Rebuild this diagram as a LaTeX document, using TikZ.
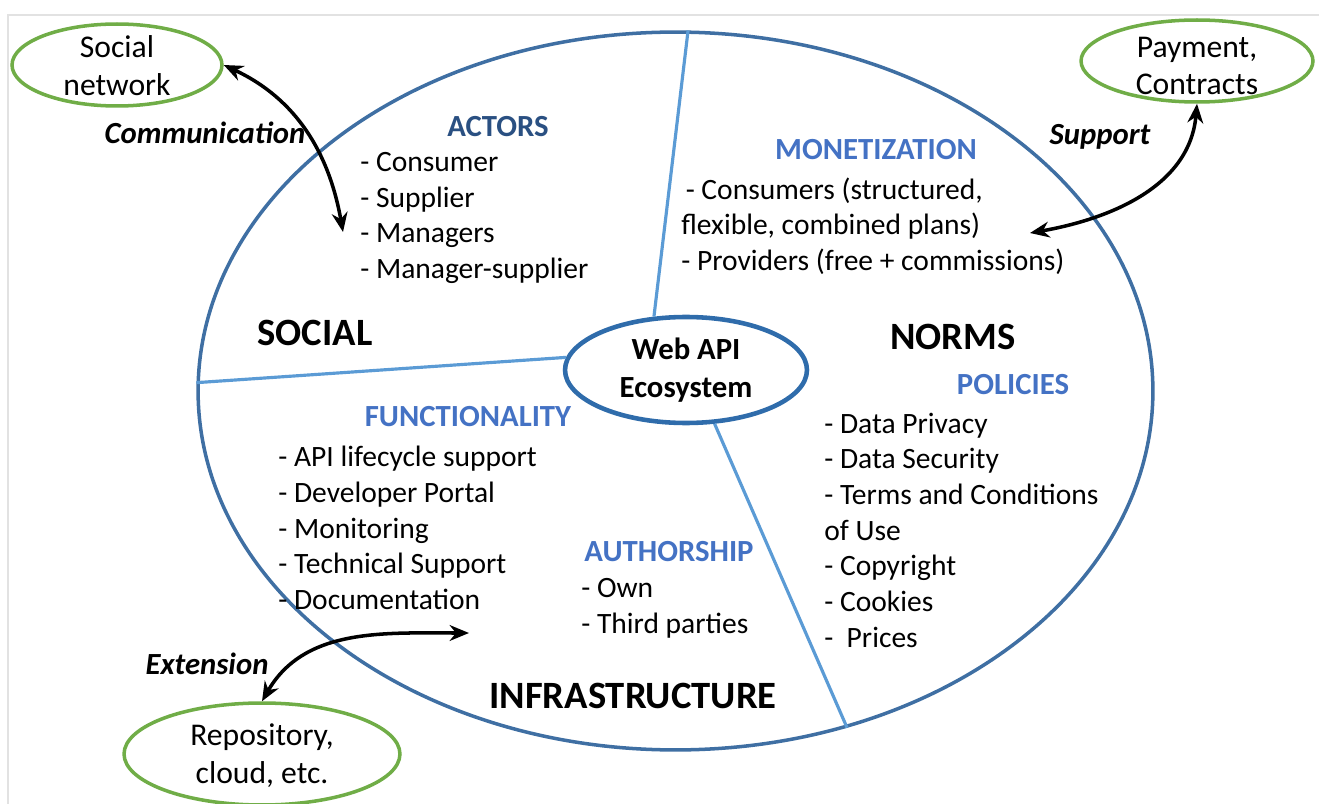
\documentclass[tikz,border=0pt]{standalone}
\usepackage{fontspec}
\setmainfont{Carlito}
\usepackage{xcolor}
\usepackage{tikz}
\usetikzlibrary{shapes.geometric, arrows.meta}

\definecolor{rimblue}{HTML}{3F6FA3}
\definecolor{hubblue}{HTML}{2F6CAB}
\definecolor{splitblue}{HTML}{5B9BD5}
\definecolor{headblue}{HTML}{4472C4}
\definecolor{navy}{HTML}{2A5082}
\definecolor{leafgreen}{HTML}{70AD47}
\definecolor{framegray}{HTML}{E2E2E2}

\begin{document}
\begin{tikzpicture}[
        x=0.02cm, y=-0.02cm,
        >={Stealth[length=11pt,width=9pt]},
        every node/.style={font=\fontsize{16.8}{20.3}\selectfont},
        rim/.style={draw=rimblue, line width=2pt, ellipse, minimum width=19.1cm, minimum height=14.36cm},
        hub/.style={draw=hubblue, line width=2.6pt, ellipse, inner sep=0pt, minimum width=4.84cm, minimum height=2.12cm, align=center, font=\fontsize{17.5}{21.5}\selectfont\bfseries},
        outer/.style={draw=leafgreen, line width=2pt, ellipse},
        outertext/.style={align=center, font=\fontsize{18}{21.5}\selectfont},
        split/.style={draw=splitblue, line width=1.8pt},
        head/.style={text=headblue, font=\fontsize{17.5}{21}\selectfont\bfseries},
        area/.style={font=\fontsize{22}{26}\selectfont\bfseries},
        items/.style={anchor=west, align=left, inner sep=0pt},
        link/.style={<->, line width=2pt},
        linklabel/.style={font=\fontsize{17.5}{21}\selectfont\bfseries\itshape}
    ]

    \useasboundingbox (0,0) rectangle (1319,804);
    \draw[framegray, line width=1pt] (8,804) -- (8,15) -- (1319,15);

    \node[rim] (eco) at (675.5,391) {};
    \node[hub] (hub) at (686,370) {Web API\\Ecosystem};

    \draw[split] (eco.88) -- (hub.121);
    \draw[split] (eco.179) -- (hub.174);
    \draw[split] (hub.298) -- (eco.297);

    \node[outer, minimum width=4.2cm, minimum height=1.64cm] (sn) at (117,65) {};
    \node[outertext] (sntext) at (117,66) {Social\\network};
    \node[outer, minimum width=4.64cm, minimum height=1.64cm] (pay) at (1197,61) {};
    \node[outertext] (paytext) at (1197,66) {Payment,\\Contracts};
    \node[outer, minimum width=5.52cm, minimum height=2.04cm] (repo) at (262,754) {};
    \node[outertext] (repotext) at (262,756) {Repository,\\cloud, etc.};

    \node[head, text=navy] (actors) at (498,127) {ACTORS};
    \node[items] (actorlist) at (360,218) {- Consumer\\- Supplier\\- Managers\\- Manager-supplier};
    \node[area] (social) at (315,333) {SOCIAL};

    \node[head] (money) at (876,150) {MONETIZATION};
    \node[items] (moneylist) at (681,226) {\hspace*{0.15em}- Consumers (structured,\\flexible, combined plans)\\- Providers (free + commissions)};

    \node[area] (norms) at (953,337) {NORMS};
    \node[head] (policies) at (1013,385) {POLICIES};
    \node[items] (policylist) at (824,530) {- Data Privacy\\- Data Security\\- Terms and Conditions\\of Use\\- Copyright\\- Cookies\\-\ \ Prices};

    \node[head] (func) at (468,417) {FUNCTIONALITY};
    \node[items] (funclist) at (278,528) {- API lifecycle support\\- Developer Portal\\- Monitoring\\- Technical Support\\- Documentation};
    \node[head] (author) at (669,552) {AUTHORSHIP};
    \node[items] (authorlist) at (581,608) {- Own\\- Third parties};
    \node[area] (infra) at (633,696) {INFRASTRUCTURE};

    \coordinate (commEnd) at (343,232);
    \coordinate (suppEnd) at (1030,233);
    \coordinate (extEnd) at (469,633);

    \draw[link] (sn.east) to[out=-25, in=100] (commEnd);
    \draw[link] (pay.south) to[out=-95, in=10] (suppEnd);
    \draw[link] (repo.north) to[out=60, in=180] (extEnd);

    \node[linklabel] (commlabel) at (205,133) {Communication};
    \node[linklabel] (supplabel) at (1100,137) {Support};
    \node[linklabel] (extlabel) at (207,664) {Extension};

\end{tikzpicture}
\end{document}
